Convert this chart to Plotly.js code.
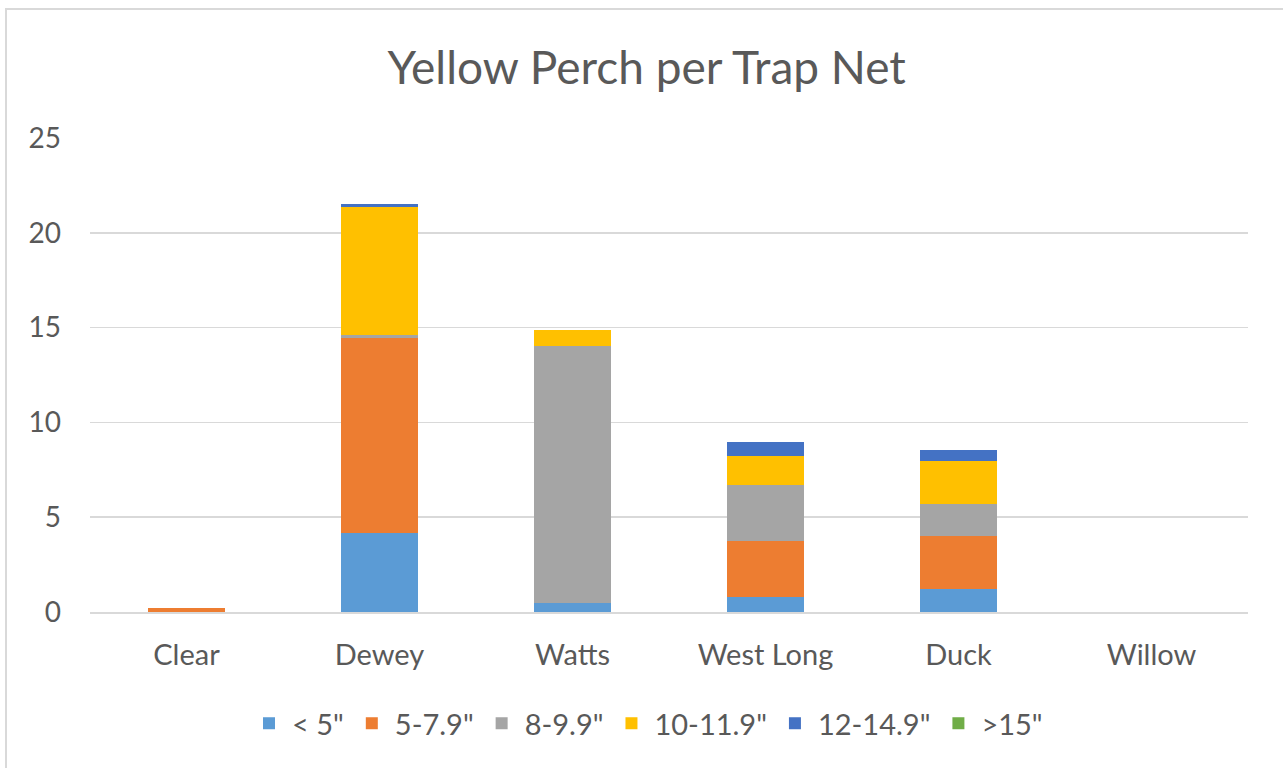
<!DOCTYPE html>
<html>
<head>
<meta charset="utf-8">
<script src="https://cdn.plot.ly/plotly-3.0.1.min.js"></script>
<style>
html,body{margin:0;padding:0;background:#fff;}
#wrap{position:relative;width:1283px;height:768px;}
#chart{position:absolute;left:0;top:0;width:1283px;height:768px;}
#frame{position:absolute;left:5px;top:8px;width:1290px;height:770px;border:2px solid #d9d9d9;box-sizing:border-box;pointer-events:none;}
</style>
</head>
<body>
<div id="wrap"><div id="chart"></div><div id="frame"></div></div>
<script>
const categories = ["Clear", "Dewey", "Watts", "West Long", "Duck", "Willow"];
const seriesNames = ['< 5"', '5-7.9"', '8-9.9"', '10-11.9"', '12-14.9"', '>15"'];
const under5   = [0,    4.18,  0.50, 0.78, 1.20, 0];
const s5to8    = [0.22, 10.27, 0,    2.94, 2.82, 0];
const s8to10   = [0,    0.15,  13.52,2.96, 1.69, 0];
const s10to12  = [0,    6.77,  0.85, 1.57, 2.25, 0];
const s12to15  = [0,    0.14,  0,    0.72, 0.57, 0];
const over15   = [0,    0,     0,    0,    0,    0];
const colors = ["#5b9bd5", "#ed7d31", "#a5a5a5", "#ffc000", "#4472c4", "#70ad47"];
const allSeries = [under5, s5to8, s8to10, s10to12, s12to15, over15];

const FONT = "Lato, Open Sans, sans-serif";
const traces = allSeries.map((vals, i) => ({
  type: "bar",
  name: seriesNames[i],
  x: categories,
  y: vals,
  marker: {color: colors[i], line: {width: 0}},
  hoverinfo: "x+y+name"
}));

const layout = {
  width: 1283, height: 768,
  barmode: "stack",
  bargap: 0.6,
  paper_bgcolor: "#ffffff",
  plot_bgcolor: "#ffffff",
  margin: {l: 90, r: 35, t: 138, b: 156},
  title: {text: "Yellow Perch per Trap Net", x: 0.504, xanchor: "center", y: 0.912, yanchor: "middle",
          font: {family: FONT, size: 46, color: "#595959"}},
  xaxis: {
    type: "category",
    showgrid: false, zeroline: false,
    showline: true, linecolor: "#d9d9d9", linewidth: 2,
    ticks: "", tickfont: {family: FONT, size: 29, color: "#595959"},
    ticklabelstandoff: 16
  },
  yaxis: {
    range: [0, 25], dtick: 5, tick0: 0,
    showgrid: true, gridcolor: "#d9d9d9", gridwidth: 1.5,
    zeroline: false, showline: false,
    ticks: "", tickfont: {family: FONT, size: 28, color: "#595959"},
    ticklabelstandoff: 28
  },
  legend: {
    orientation: "h", x: 0.481, xanchor: "center", y: -0.235, yanchor: "middle",
    font: {family: FONT, size: 29, color: "#595959"},
    traceorder: "normal", itemwidth: 36
  },
  showlegend: true
};

Plotly.newPlot("chart", traces, layout, {displayModeBar: false, staticPlot: true});
</script>
</body>
</html>
